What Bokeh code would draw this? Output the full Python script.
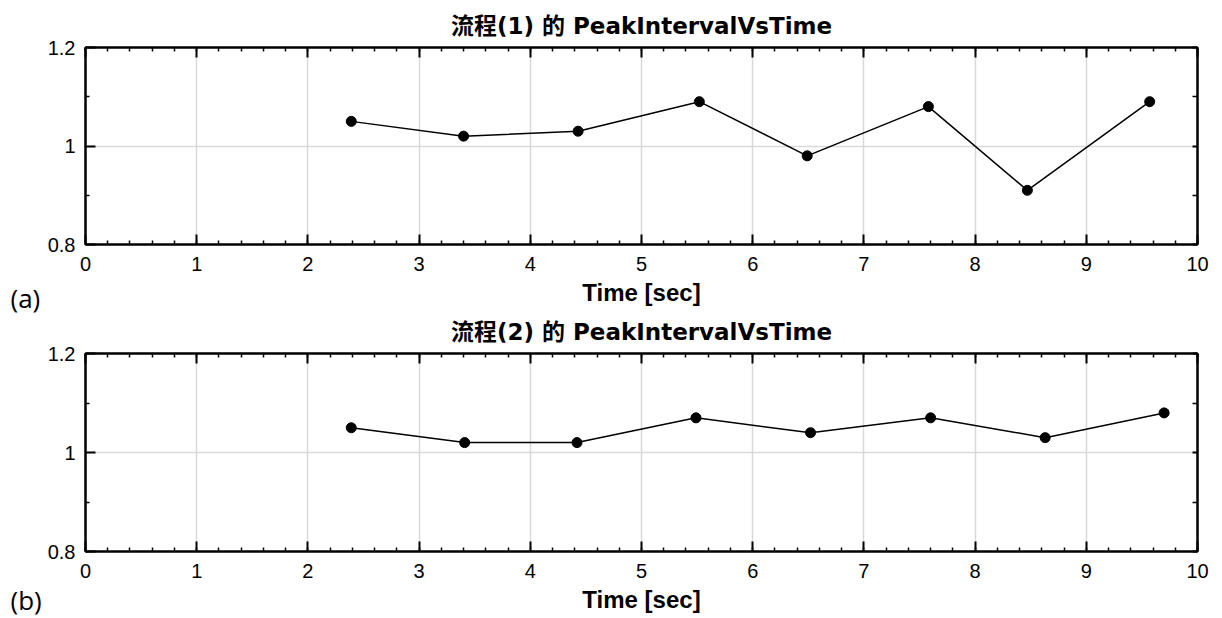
from bokeh.plotting import figure
from bokeh.layouts import column, row
from bokeh.models import (FixedTicker, LinearAxis, NumeralTickFormatter,
                          CustomJSTickFormatter, Label, Range1d)
from bokeh.embed import file_html
from bokeh.resources import INLINE

# ---- data ----
time_a = [2.39, 3.40, 4.43, 5.52, 6.49, 7.58, 8.47, 9.57]
interval_a = [1.05, 1.02, 1.03, 1.09, 0.98, 1.08, 0.91, 1.09]
time_b = [2.39, 3.41, 4.42, 5.49, 6.52, 7.60, 8.63, 9.70]
interval_b = [1.05, 1.02, 1.02, 1.07, 1.04, 1.07, 1.03, 1.08]

x_major = [0, 1, 2, 3, 4, 5, 6, 7, 8, 9, 10]
x_minor = [round(i * 0.2, 1) for i in range(51)]
y_major = [0.8, 1.0, 1.2]
y_minor = [0.9, 1.1]
titles = ["流程(1) 的 PeakIntervalVsTime", "流程(2) 的 PeakIntervalVsTime"]
panel_tags = ["(a)", "(b)"]
x_label = "Time [sec]"

TICK_FONT = "Liberation Sans"
GRID = "#d9d9d9"
TAG_W = 44
H1, H2 = 311, 307


def style_axis(ax, labels=True, tick_in=10, minor_in=4):
    ax.axis_line_color = "black"
    ax.axis_line_width = 2
    ax.major_tick_in = tick_in
    ax.major_tick_out = 0
    ax.minor_tick_in = minor_in
    ax.minor_tick_out = 0
    ax.major_tick_line_color = "black"
    ax.major_tick_line_width = 2
    ax.minor_tick_line_color = "black"
    ax.minor_tick_line_width = 1.5
    if labels:
        ax.major_label_text_font = TICK_FONT
        ax.major_label_text_font_size = "20px"
        ax.major_label_text_color = "black"
    else:
        ax.formatter = CustomJSTickFormatter(code="return ''")
        ax.major_label_text_font_size = "1px"
        ax.major_label_standoff = 0


def make_panel(xs, ys, title, height, top, frame_h):
    p = figure(width=1222 - TAG_W, height=height, output_backend="svg", toolbar_location=None,
               x_range=Range1d(0, 10), y_range=Range1d(0.8, 1.2),
               min_border_left=84 - TAG_W, min_border_right=25, min_border_top=top,
               min_border_bottom=height - top - frame_h,
               background_fill_color="white", border_fill_color="white",
               outline_line_color="black", outline_line_width=2)
    p.title.text = title
    p.title.text_font = "DejaVu Sans, Noto Sans CJK TC"
    p.title.text_font_size = "23px"
    p.title.text_font_style = "bold"
    p.title.text_color = "black"
    p.title.align = "center"
    p.title.vertical_align = "top"
    p.title.standoff = 14

    xt = FixedTicker(ticks=x_major, minor_ticks=x_minor)
    yt = FixedTicker(ticks=y_major, minor_ticks=y_minor)

    xa = p.xaxis[0]
    xa.ticker = xt
    style_axis(xa)
    xa.major_label_standoff = 12
    xa.axis_label = x_label
    xa.axis_label_text_font = TICK_FONT
    xa.axis_label_text_font_size = "24px"
    xa.axis_label_text_font_style = "bold"
    xa.axis_label_text_color = "black"
    xa.axis_label_standoff = 5

    ya = p.yaxis[0]
    ya.ticker = yt
    style_axis(ya)
    ya.formatter = NumeralTickFormatter(format="0.[0]")
    ya.major_label_standoff = 10

    top_ax = LinearAxis(ticker=xt)
    style_axis(top_ax, labels=False)
    p.add_layout(top_ax, "above")
    right_ax = LinearAxis(ticker=yt)
    style_axis(right_ax, labels=False, tick_in=5, minor_in=5)
    p.add_layout(right_ax, "right")

    p.xgrid.ticker = xt
    p.ygrid.ticker = yt
    p.xgrid.grid_line_color = GRID
    p.ygrid.grid_line_color = GRID
    p.xgrid.grid_line_width = 1.5
    p.ygrid.grid_line_width = 1.5

    p.line(xs, ys, line_color="black", line_width=1.5)
    p.scatter(xs, ys, size=10, fill_color="black", line_color="black")
    return p


p1 = make_panel(time_a, interval_a, titles[0], H1, 47, 197)
p2 = make_panel(time_b, interval_b, titles[1], H2, 353 - H1, 198)

# narrow strip on the left carrying the panel tags (a) / (b)
TOTAL_H = H1 + H2
tags = figure(width=TAG_W, height=TOTAL_H, output_backend="svg", toolbar_location=None,
              x_range=Range1d(0, TAG_W), y_range=Range1d(0, TOTAL_H),
              x_axis_location=None, y_axis_location=None,
              min_border=0, outline_line_color=None,
              background_fill_color="white", border_fill_color="white")
tags.grid.visible = False
tag_centers = [297, 599]  # distance from the top of the page
for t, c in zip(panel_tags, tag_centers):
    tags.add_layout(Label(x=10, y=TOTAL_H - c, text=t, text_font="Open Sans",
                          text_font_size="26px", text_baseline="middle",
                          text_align="left", text_color="black"))

layout = row(tags, column(p1, p2, spacing=0), spacing=0)
open("out.html", "w").write(file_html(layout, INLINE))
